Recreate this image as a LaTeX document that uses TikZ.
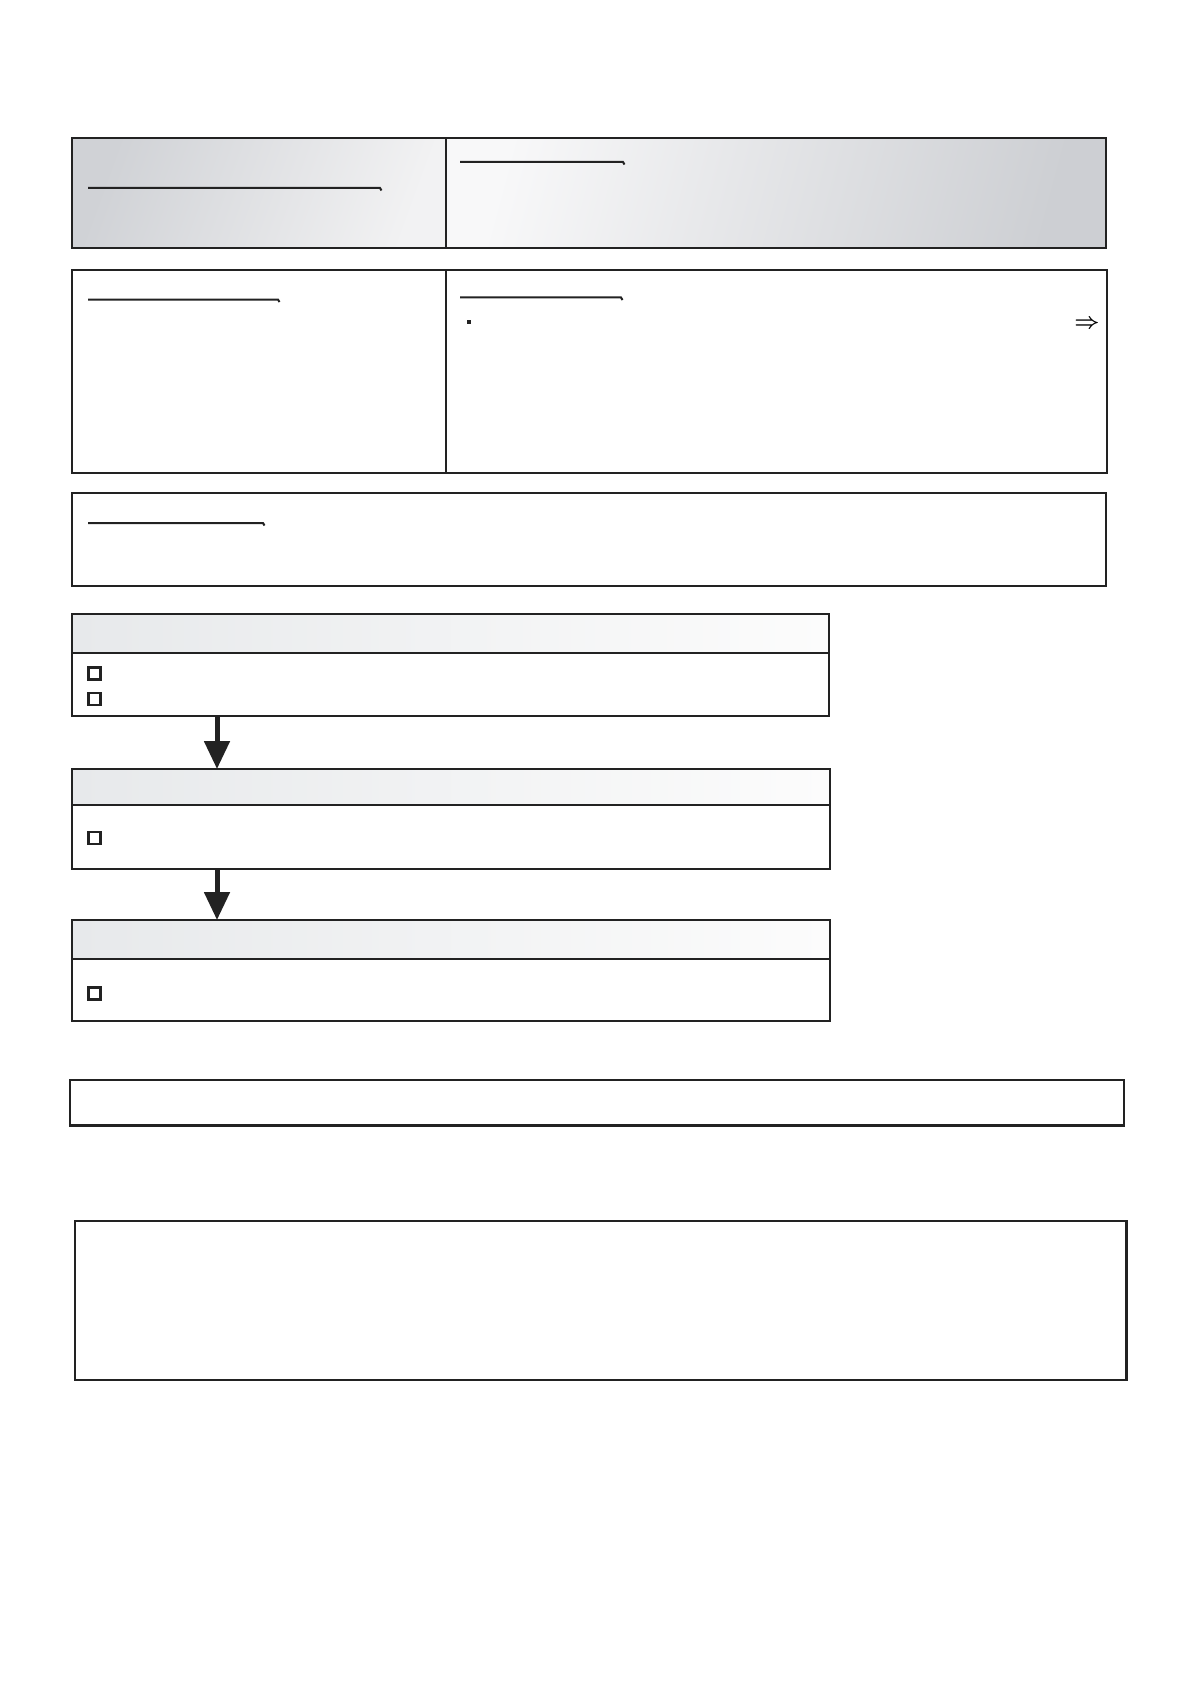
\documentclass[tikz,border=0pt]{standalone}
\usepackage{amsmath}
\usetikzlibrary{arrows.meta}
\definecolor{edge}{HTML}{222222}
\definecolor{gA}{HTML}{D0D2D6}
\definecolor{gB}{HTML}{F2F2F3}
\definecolor{gC}{HTML}{F8F8F9}
\definecolor{gD}{HTML}{CDCFD3}
\definecolor{hA}{HTML}{E7E9EB}
\definecolor{hB}{HTML}{FCFCFC}
\begin{document}
\begin{tikzpicture}[x=0.5pt,y=-0.5pt,
  cell/.style={draw=edge, line width=1pt, inner sep=0pt, outer sep=0pt, anchor=north west},
  uline/.style={draw=edge, line width=1pt},
  cbox/.style={draw=edge, line width=1.4pt, fill=white, minimum size=6pt, inner sep=0pt},
  bullet/.style={fill=edge, minimum size=1.6pt, inner sep=0pt},
  flowarrow/.style={draw=edge, line width=2.5pt, -{Triangle[width=12.5pt,length=14pt]}}]
\useasboundingbox[fill=white] (0,0) rectangle (1191,1684);

% ---- top shaded box
\node[cell, minimum width=186.75pt, minimum height=54.75pt,
      left color=gA, right color=gB, shading angle=70] (tl) at (72,138.5) {};
\node[cell, minimum width=330.25pt, minimum height=54.75pt,
      left color=gC, right color=gD, shading angle=75] (tr) at (445.5,138.5) {};
\draw[uline] (88,188) -- (380,188) -- (381.5,190.5);
\draw[uline] (460,162) -- (623,162) -- (624.5,164.5);

% ---- second box
\node[cell, minimum width=186.75pt, minimum height=101.45pt] (ml) at (72,269.6) {};
\node[cell, minimum width=330.75pt, minimum height=101.45pt] (mr) at (445.5,269.6) {};
\draw[uline] (88,299.6) -- (278,299.6) -- (279.5,302);
\draw[uline] (460,297.5) -- (621,297.5) -- (622.5,300);
\node[bullet] (dot) at (469,322) {};
\node[font=\fontsize{10.5}{12}\selectfont, inner sep=0pt] (impl) at (1087,324) {$\boldsymbol{\Rightarrow}$};

% ---- third box
\node[cell, minimum width=517pt, minimum height=46.5pt] (nb) at (72,493) {};
\draw[uline] (88,523) -- (263,523) -- (264.5,525.5);

% ---- flow boxes
\shade[left color=hA, right color=hB] (72,614) rectangle (829,653);
\node[cell, minimum width=378.5pt, minimum height=51pt] (f1) at (72,614) {};
\draw[edge, line width=1pt] (72,653) -- (829,653);
\node[cbox] (c1a) at (94.5,673.5) {};
\node[cbox] (c1b) at (94.5,699) {};

\shade[left color=hA, right color=hB] (72,769) rectangle (830,805);
\node[cell, minimum width=379pt, minimum height=50pt] (f2) at (72,769) {};
\draw[edge, line width=1.2pt] (72,805) -- (830,805);
\node[cbox] (c2) at (94.5,838) {};

\shade[left color=hA, right color=hB] (72,920) rectangle (830,959);
\node[cell, minimum width=379pt, minimum height=50.5pt] (f3) at (72,920) {};
\draw[edge, line width=1.2pt] (72,959) -- (830,959);
\node[cbox] (c3) at (94.5,993.5) {};

\draw[flowarrow] ([xshift=72.5pt]f1.south west) -- ([xshift=72.5pt]f2.north west);
\draw[flowarrow] ([xshift=72.5pt]f2.south west) -- ([xshift=72.5pt]f3.north west);

% ---- bottom boxes
\node[cell, line width=1.2pt, minimum width=527pt, minimum height=22.75pt] (sb) at (70,1080) {};
\node[cell, line width=1.3pt, minimum width=525.75pt, minimum height=79.5pt] (bb) at (75,1221) {};
\end{tikzpicture}
\end{document}
